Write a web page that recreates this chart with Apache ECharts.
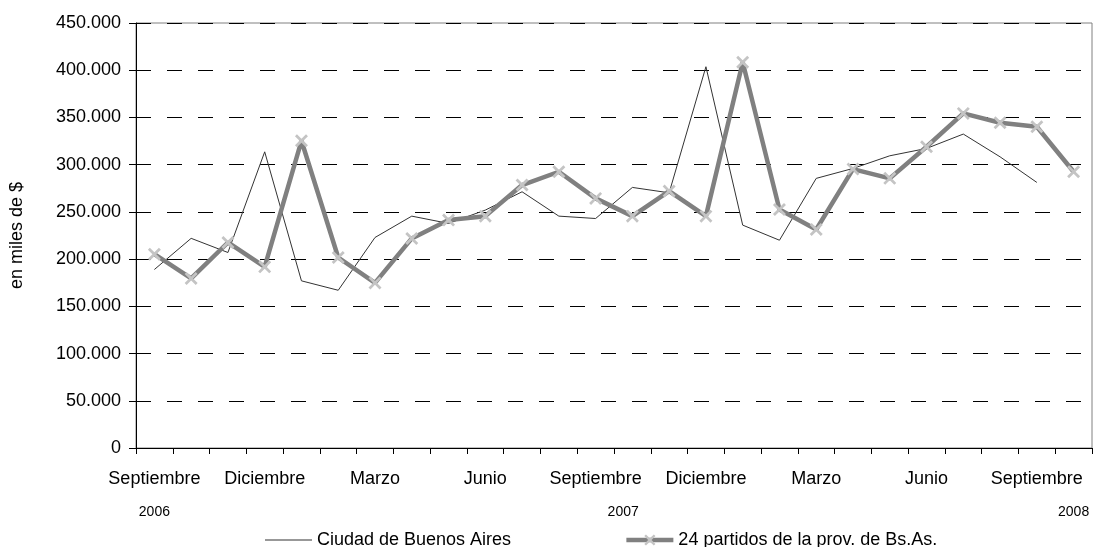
<!DOCTYPE html>
<html>
<head>
<meta charset="utf-8">
<script src="https://cdn.jsdelivr.net/npm/echarts@6/dist/echarts.min.js"></script>
<style>
html,body{margin:0;padding:0;background:#fff;}
#c{width:1095px;height:547px;}
</style>
</head>
<body>
<div id="c"></div>
<script>
var categories = [
  'Septiembre 2006','Octubre 2006','Noviembre 2006','Diciembre 2006',
  'Enero 2007','Febrero 2007','Marzo 2007','Abril 2007','Mayo 2007','Junio 2007',
  'Julio 2007','Agosto 2007','Septiembre 2007','Octubre 2007','Noviembre 2007','Diciembre 2007',
  'Enero 2008','Febrero 2008','Marzo 2008','Abril 2008','Mayo 2008','Junio 2008',
  'Julio 2008','Agosto 2008','Septiembre 2008','Octubre 2008'
];
var ciudad = [189000, 222000, 207000, 313600, 177000, 167000, 222900, 245500, 237800, 251900,
  271300, 245500, 243000, 275900, 270200, 403700, 236000, 220000, 285500, 296000,
  309400, 317200, 332400, 308300, 281200];
var partidos = [205200, 179500, 217600, 191800, 325300, 201700, 174800, 221900, 241300, 245500,
  278400, 292500, 264300, 245500, 272000, 245500, 408400, 252600, 231400, 295300,
  285500, 319000, 354300, 344400, 340100, 292500];
var yearLabels = { '0.5': '2006', '13.25': '2007', '25.5': '2008' };
var seriesNames = ['Ciudad de Buenos Aires', '24 partidos de la prov. de Bs.As.'];
var yAxisName = 'en miles de $';

var FONT = '"Liberation Sans", Arial, sans-serif';
var xShape = 'path://M0,1.5 L1.5,0 L5,3.5 L8.5,0 L10,1.5 L6.5,5 L10,8.5 L8.5,10 L5,6.5 L1.5,10 L0,8.5 L3.5,5 Z';
var thinLine = 'path://M0,0 L47,0 L47,1.2 L0,1.2 Z';

function fmt(v) {
  var s = String(Math.round(v));
  return s.replace(/\B(?=(\d{3})+(?!\d))/g, '.');
}

var chart = echarts.init(document.getElementById('c'), null, { renderer: 'canvas' });
chart.setOption({
  animation: false,
  backgroundColor: '#ffffff',
  textStyle: { fontFamily: FONT },
  grid: {
    left: 135, right: 1, top: 23, bottom: 99,
    show: true, borderColor: '#808080', borderWidth: 1, backgroundColor: 'transparent'
  },
  legend: {
    left: 260, top: 526,
    itemWidth: 47, itemHeight: 14, itemGap: 113,
    textStyle: { fontSize: 18, color: '#000', fontFamily: FONT },
    data: [
      { name: seriesNames[0], icon: thinLine, itemStyle: { color: '#333333' } },
      { name: seriesNames[1], lineStyle: { width: 4.5, color: '#808080' } }
    ]
  },
  xAxis: [{
    type: 'category',
    data: categories,
    boundaryGap: true,
    axisLine: { lineStyle: { color: '#000', width: 1 } },
    axisTick: { show: true, interval: 0, length: 6, lineStyle: { color: '#000' } },
    axisLabel: {
      interval: 2, margin: 22, fontSize: 18, color: '#000', fontFamily: FONT,
      formatter: function (v) { return v.split(' ')[0]; }
    },
    splitLine: { show: false }
  }, {
    type: 'value',
    position: 'bottom',
    min: 0, max: 26, interval: 0.25,
    axisLine: { show: false },
    axisTick: { show: false },
    splitLine: { show: false },
    axisLabel: {
      margin: 57, fontSize: 14, color: '#000', fontFamily: FONT,
      showMinLabel: true, showMaxLabel: true,
      formatter: function (v) { return yearLabels[String(v)] || ''; }
    }
  }],
  yAxis: {
    type: 'value',
    min: 0, max: 450000, interval: 50000,
    name: yAxisName,
    nameLocation: 'middle',
    nameGap: 110,
    nameRotate: 90,
    nameTextStyle: { fontSize: 18, color: '#000', fontFamily: FONT },
    axisLine: { show: true, lineStyle: { color: '#000', width: 1 } },
    axisTick: { show: true, length: 7, lineStyle: { color: '#000' } },
    axisLabel: { margin: 15, fontSize: 18, color: '#000', fontFamily: FONT, formatter: fmt },
    splitLine: { show: true, lineStyle: { color: '#000', width: 1, type: [15, 16] } }
  },
  series: [{
    name: seriesNames[0],
    type: 'line',
    data: ciudad,
    symbol: 'none',
    lineStyle: { color: '#333333', width: 1 },
    itemStyle: { color: '#333333' },
    z: 2
  }, {
    name: seriesNames[1],
    type: 'line',
    data: partidos,
    symbol: xShape,
    symbolSize: 13,
    showSymbol: true,
    lineStyle: { color: '#808080', width: 4.5 },
    itemStyle: { color: '#c4c4c4' },
    z: 3
  }]
});
</script>
</body>
</html>
